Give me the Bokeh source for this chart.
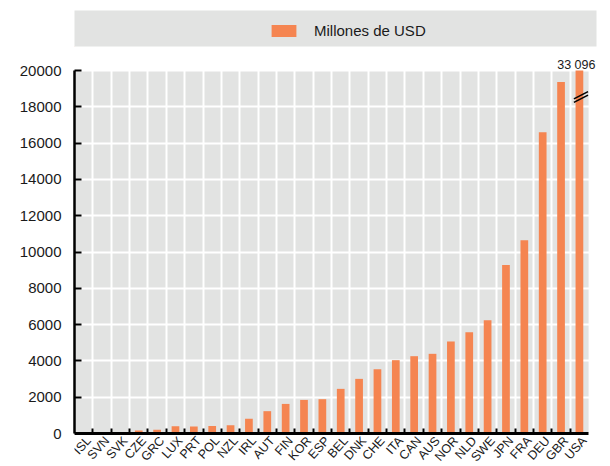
import math
from bokeh.plotting import figure
from bokeh.models import (Range1d, FixedTicker, Label, LabelSet, ColumnDataSource, Legend,
                          LegendItem, BoxAnnotation)
from bokeh.core.properties import value
from bokeh.layouts import column
from bokeh.embed import file_html
from bokeh.resources import INLINE

# ---- data ----
countries = ["ISL", "SVN", "SVK", "CZE", "GRC", "LUX", "PRT", "POL", "NZL", "IRL",
             "AUT", "FIN", "KOR", "ESP", "BEL", "DNK", "CHE", "ITA", "CAN", "AUS",
             "NOR", "NLD", "SWE", "JPN", "FRA", "DEU", "GBR", "USA"]
values = [15, 50, 60, 170, 210, 400, 390, 410, 460, 810,
          1230, 1630, 1850, 1890, 2460, 3010, 3540, 4040, 4260, 4390,
          5070, 5580, 6240, 9290, 10650, 16600, 19360, 33096]
series_name = "Millones de USD"
y_ticks = [0, 2000, 4000, 6000, 8000, 10000, 12000, 14000, 16000, 18000, 20000]
y_max = 20000
usa_label = "33 096"
break_value = 18540

# ---- style / layout constants ----
ORANGE = "#f58551"
GRAY = "#e2e3e2"
FONT = "Liberation Sans"
TEXT = "#1a1a1a"
W = 602
MAIN_H = 418
PLOT_LEFT_PX = 74         # where x = 0 sits (frame left)
PLOT_RIGHT_PX = 594       # where x = n sits
PLOT_H_PX = 363           # height of 0..y_max
TOP_PAD_PX = 20           # frame space above y_max
BOTTOM_PAD_PX = 33        # frame space below 0 (for category labels)

n = len(countries)
centers = [i + 0.5 for i in range(n)]
bounds = [float(i) for i in range(1, n)]
tops = [min(v, y_max) for v in values]

px_x = (PLOT_RIGHT_PX - PLOT_LEFT_PX) / n
x_end = n + (W - PLOT_RIGHT_PX) / px_x
px_y = PLOT_H_PX / y_max
y_end = y_max + TOP_PAD_PX / px_y
y_start = -BOTTOM_PAD_PX / px_y

# ---- legend strip ----
top_fig = figure(width=W, height=48, output_backend="svg", toolbar_location=None,
                 x_range=Range1d(0, 1), y_range=Range1d(0, 1),
                 x_axis_location=None, y_axis_location=None,
                 min_border_left=74, min_border_right=6, min_border_top=10, min_border_bottom=2,
                 background_fill_color=GRAY, outline_line_color=None, border_fill_color="white")
top_fig.grid.visible = False
r0 = top_fig.vbar(x=[-5], top=[-5], width=0.5, fill_color=ORANGE, line_color=None)
legend = Legend(items=[LegendItem(label=series_name, renderers=[r0])],
                location=(194, 7), orientation="horizontal",
                glyph_width=31, glyph_height=15, label_standoff=15,
                label_text_font=FONT, label_text_font_size="15px",
                label_text_color=TEXT, padding=0, margin=0, spacing=0,
                background_fill_alpha=0, border_line_color=None)
top_fig.add_layout(legend)

# ---- main chart ----
p = figure(width=W, height=MAIN_H, output_backend="svg", toolbar_location=None,
           x_range=Range1d(0, x_end), y_range=Range1d(y_start, y_end),
           min_border_left=PLOT_LEFT_PX, min_border_right=0, min_border_top=2, min_border_bottom=0,
           background_fill_color="white", outline_line_color=None, border_fill_color="white")

p.add_layout(BoxAnnotation(left=0, right=n, bottom=0, top=y_max, fill_color=GRAY, fill_alpha=1,
                           line_color=None, level="image"))

src = ColumnDataSource(dict(x=centers, top=tops, name=countries, base=[0] * n))
p.vbar(x="x", top="top", width=0.42, source=src, fill_color=ORANGE, line_color=None)

# axis-break marks on the USA bar
cx = centers[-1]
for dy in (-95, 95):
    p.segment(x0=[cx - 0.3], y0=[break_value - 200 + dy], x1=[cx + 0.47], y1=[break_value + 200 + dy],
              line_color="black", line_width=1.6)

p.add_layout(Label(x=cx, y=y_max, text=usa_label, text_align="right", text_baseline="alphabetic",
                   x_offset=16, y_offset=6, text_font=FONT, text_font_size="12.5px", text_color=TEXT))

# category labels (rotated)
p.add_layout(LabelSet(x="x", y="base", text="name", source=src, angle=math.radians(48),
                      text_align="right", text_baseline="middle", x_offset=5, y_offset=-5,
                      text_font=value(FONT), text_font_size="12.5px", text_color=TEXT))

# grids
p.xgrid.ticker = FixedTicker(ticks=bounds)
p.ygrid.ticker = FixedTicker(ticks=y_ticks)
p.grid.grid_line_color = "white"
p.grid.grid_line_width = 2

# x axis: boundary ticks only, sitting on y = 0
p.xaxis.fixed_location = 0
p.xaxis.bounds = (0, n)
p.xaxis.ticker = FixedTicker(ticks=[], minor_ticks=bounds)
p.xaxis.major_tick_line_color = None
p.xaxis.minor_tick_line_color = "black"
p.xaxis.minor_tick_line_width = 2
p.xaxis.minor_tick_in = 5
p.xaxis.minor_tick_out = 0
p.xaxis.axis_line_width = 3
p.xaxis.axis_line_color = "black"

# y axis
p.yaxis.bounds = (0, y_max)
p.yaxis.ticker = FixedTicker(ticks=y_ticks)
p.yaxis.major_tick_in = 7
p.yaxis.major_tick_out = 0
p.yaxis.major_tick_line_width = 2
p.yaxis.minor_tick_line_color = None
p.yaxis.axis_line_width = 2.5
p.yaxis.axis_line_color = "black"
p.yaxis.major_label_text_font = FONT
p.yaxis.major_label_text_font_size = "15px"
p.yaxis.major_label_text_color = TEXT
p.yaxis.major_label_standoff = 13

layout = column(top_fig, p, spacing=0)
open("out.html", "w").write(file_html(layout, INLINE))
